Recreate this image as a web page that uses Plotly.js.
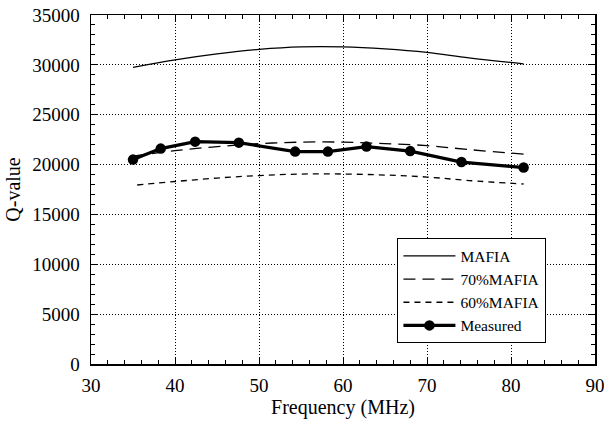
<!DOCTYPE html>
<html>
<head>
<meta charset="utf-8">
<script src="https://cdn.plot.ly/plotly-3.0.1.min.js"></script>
<style>html,body{margin:0;padding:0;background:#fff;}#chart{width:604px;height:421px;}</style>
</head>
<body>
<div id="chart"></div>
<script>
const mafiaX = [35, 40, 45, 50, 55, 60, 65, 70, 75, 81.5];
const mafiaY = [29750, 30500, 31100, 31550, 31800, 31800, 31600, 31250, 30700, 30100];

const mafia70X = [35, 40, 45, 50, 55, 60, 65, 70, 75, 81.5];
const mafia70Y = [20850, 21400, 21800, 22100, 22250, 22250, 22100, 21900, 21500, 21050];

const mafia60X = [35.5, 40, 45, 50, 55, 60, 65, 70, 75, 81.5];
const mafia60Y = [17950, 18300, 18650, 18900, 19050, 19050, 18950, 18750, 18400, 18050];

const measX = [35.0, 38.3, 42.4, 47.6, 54.3, 58.2, 62.8, 68.0, 74.1, 81.5];
const measY = [20500, 21600, 22300, 22200, 21300, 21300, 21800, 21350, 20250, 19700];

const seriesNames = ['MAFIA', '70%MAFIA', '60%MAFIA', 'Measured'];

const font = "'Liberation Serif', 'DejaVu Serif', serif";

const traces = [
  {x: mafiaX, y: mafiaY, name: seriesNames[0], mode: 'lines', line: {color: '#000', width: 1.3, shape: 'spline'}},
  {x: mafia70X, y: mafia70Y, name: seriesNames[1], mode: 'lines', line: {color: '#000', width: 1.3, dash: '12px,7px', shape: 'spline'}},
  {x: mafia60X, y: mafia60Y, name: seriesNames[2], mode: 'lines', line: {color: '#000', width: 1.3, dash: '6px,5px', shape: 'spline'}},
  {x: measX, y: measY, name: seriesNames[3], mode: 'lines+markers', line: {color: '#000', width: 3.2}, marker: {color: '#000', size: 10.5}}
];

const axisCommon = {
  showline: true, linecolor: '#000', linewidth: 1.5, mirror: 'allticks',
  ticks: 'inside', ticklen: 7, tickcolor: '#000', tickwidth: 1,
  showgrid: true, gridcolor: '#000', gridwidth: 1, griddash: '1px,2px',
  zeroline: false, ticklabeloverflow: 'allow',
  tickfont: {family: font, size: 19, color: '#000'}
};

const layout = {
  width: 604, height: 421,
  margin: {l: 91, r: 9, t: 15, b: 57},
  paper_bgcolor: '#fff', plot_bgcolor: '#fff',
  showlegend: true,
  font: {family: font, color: '#000'},
  xaxis: Object.assign({}, axisCommon, {
    range: [30, 90], dtick: 10, tick0: 30, tickformat: 'd',
    minor: {dtick: 2, ticks: 'inside', ticklen: 4, tickcolor: '#000', showgrid: false},
    title: {text: 'Frequency (MHz)', font: {family: font, size: 20, color: '#000'}, standoff: 4},
    ticklabelstandoff: 4
  }),
  yaxis: Object.assign({}, axisCommon, {
    range: [0, 35000], dtick: 5000, tick0: 0, tickformat: 'd',
    minor: {dtick: 1000, ticks: 'inside', ticklen: 4, tickcolor: '#000', showgrid: false},
    title: {text: 'Q-value', font: {family: font, size: 20, color: '#000'}, standoff: 6},
    ticklabelstandoff: 6
  }),
  legend: {
    x: 0.608, y: 0.36, xanchor: 'left', yanchor: 'top',
    bgcolor: '#fff', bordercolor: '#000', borderwidth: 1,
    font: {family: font, size: 15.5, color: '#000'},
    itemwidth: 52, tracegroupgap: 0
  }
};

Plotly.newPlot('chart', traces, layout, {displayModeBar: false, staticPlot: true});
</script>
</body>
</html>
